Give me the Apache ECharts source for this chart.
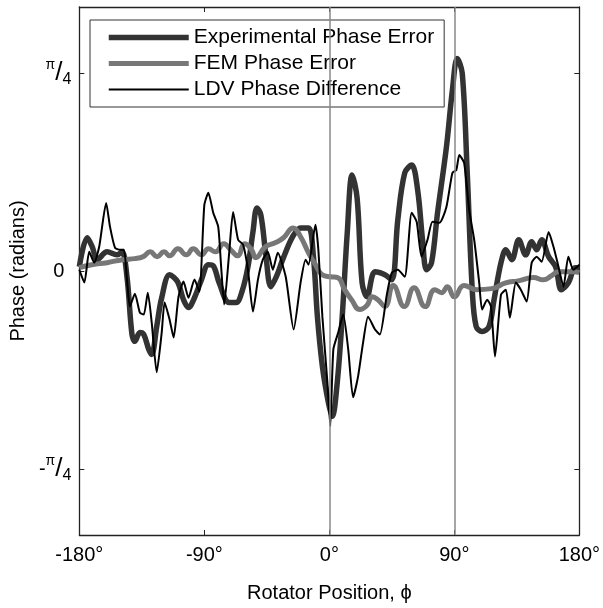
<!DOCTYPE html>
<html><head><meta charset="utf-8">
<script src="https://cdn.jsdelivr.net/npm/echarts@6/dist/echarts.min.js"></script>
<style>html,body{margin:0;padding:0;background:#fff}#c{width:603px;height:608px}</style>
</head><body><div id="c"></div>
<script>
// Axis ticks
const xTicks = [-180, -90, 0, 90, 180];
const yTicks = [-Math.PI / 4, 0, Math.PI / 4];
const refLines = [0, 90];
const seriesNames = ['Experimental Phase Error', 'FEM Phase Error', 'LDV Phase Difference'];

// Experimental Phase Error (deg, rad)
const expX = [-180,-174.3,-170.7,-167.1,-160,-152.9,-149.3,-145.7,-142.1,-140,-136.4,-133.6,-130,-127.9,-124.3,-120.7,-115,-109.3,-105,-101.4,-97.1,-92.1,-87.1,-83.6,-79.3,-72.1,-67.1,-62.9,-58.6,-55,-52.1,-49.3,-45.7,-42.1,-37.9,-33.6,-26.4,-20.7,-15,-11.4,-8.6,-5,-0.7,2.1,5.7,9.3,12.9,16.4,20,23.6,27.1,32.9,40,45,49.3,54.3,59.3,63.6,67.1,70,73.6,77.9,84.3,88.6,92.1,95.7,99.3,102.9,105.7,110,115,118.6,123.6,127.1,131.4,136.4,141.4,145.7,149.3,152.9,157.9,162.9,167.1,172.1,177.1,180];
const expY = [0.017,0.132,0.096,0.045,0.076,0.064,0.076,-0.023,-0.252,-0.279,-0.244,-0.252,-0.311,-0.331,-0.220,-0.106,-0.015,-0.042,-0.114,-0.145,-0.106,-0.035,0.025,0.021,-0.047,-0.125,-0.125,-0.082,0.017,0.155,0.250,0.222,0.064,-0.062,-0.019,0.045,0.136,0.171,0.171,0.053,-0.180,-0.378,-0.521,-0.576,-0.442,-0.180,0.151,0.381,0.290,-0.047,-0.102,-0.003,-0.015,-0.035,0.203,0.389,0.420,0.321,0.124,0.005,0.033,0.230,0.491,0.717,0.843,0.784,0.389,-0.074,-0.220,-0.240,-0.220,-0.114,0.033,0.084,0.045,0.124,0.064,0.116,0.084,0.124,0.057,0.017,-0.074,-0.047,0.013,0.013];

// FEM Phase Error (deg, rad)
const femX = [-180,-171,-160,-149,-140,-134,-129,-124,-119,-115,-109,-103,-98,-92,-87,-82,-76,-71,-66,-61,-56,-53,-46,-39,-33,-26,-21,-15,-10,-5,1,6,11,16,22,27,31,35,40,46,54,61,69,76,81,85,90,97,106,117,127,136,147,154,160,165,176,180];
const femY = [0.013,0.025,0.033,0.045,0.049,0.057,0.076,0.057,0.076,0.060,0.088,0.064,0.088,0.064,0.088,0.076,0.108,0.084,0.060,0.108,0.084,0.053,0.096,0.112,0.132,0.171,0.139,0.072,0.025,-0.015,-0.023,-0.026,-0.074,-0.114,-0.153,-0.137,-0.102,-0.114,-0.141,-0.058,-0.141,-0.066,-0.141,-0.074,-0.086,-0.062,-0.102,-0.058,-0.074,-0.070,-0.047,-0.039,-0.026,-0.035,-0.019,-0.003,-0.003,-0.007];

// LDV Phase Difference (deg, rad)
const ldvX = [-180,-176.4,-172.9,-169.3,-165.7,-160.7,-157.9,-154.3,-150.7,-147.9,-145.7,-143.6,-140,-136.4,-133.6,-130.7,-127.9,-124.3,-120.7,-118.6,-115,-112.1,-108.6,-105,-101.4,-97.1,-93.6,-90,-87.1,-83.6,-80,-77.9,-75.7,-72.1,-69.3,-65.7,-62.1,-58.6,-55,-51.4,-47.9,-44.3,-40.7,-37.1,-31.4,-25.7,-20.7,-17.1,-15,-10,-7.9,-5,-1.4,0.7,2.9,6.4,10,13.6,17.1,20.7,24.3,27.9,32.9,36.4,41.4,45,49.3,54.3,59.3,62.9,66.4,70.7,74.3,79.3,84.3,88.6,91.4,93.6,97.1,100.7,104.3,107.9,110,113.6,116.4,119.3,123.6,127.1,130,134.3,137.9,142.1,145.7,149.3,152.9,157.9,161.4,165,168.6,172.1,175.7,180];
const ldvY = [0.005,-0.046,0.076,0.033,0.096,0.270,0.175,0.092,0.084,0.084,-0.034,-0.141,-0.090,-0.165,-0.173,-0.086,-0.204,-0.402,-0.244,-0.125,-0.193,-0.264,-0.102,-0.042,-0.106,-0.034,-0.082,0.262,0.310,0.231,0.175,0.017,-0.133,0.072,0.234,0.124,0.104,0.005,-0.161,-0.034,0.045,0.076,0.005,0.072,-0.023,-0.232,-0.046,0.045,0.025,0.183,0.084,-0.181,-0.442,-0.615,-0.311,-0.244,-0.173,-0.311,-0.501,-0.418,-0.284,-0.181,-0.232,-0.252,-0.094,-0.007,0.005,-0.023,0.231,0.195,0.057,0.124,0.195,0.191,0.254,0.389,0.400,0.460,0.428,0.242,0.124,-0.046,-0.153,-0.114,-0.141,-0.339,-0.094,-0.074,-0.185,-0.046,-0.074,-0.121,0.033,0.057,0.037,0.155,0.096,0.017,-0.062,0.057,0.005,0.025];

const zip = (xs, ys) => xs.map((x, i) => [x, ys[i]]);
const FONT = "'Liberation Sans', Arial, sans-serif";
const near = (a, b) => Math.abs(a - b) < 1e-6;

function yLabel(v) {
  if (near(v, Math.PI / 4)) return '{sup|π}{sl|/}{sub|4}';
  if (near(v, -Math.PI / 4)) return '{m|-}{sup|π}{sl|/}{sub|4}';
  if (near(v, 0)) return '{z|0}';
  return '';
}

const hideSym = { opacity: 0, borderWidth: 0 };

const chart = echarts.init(document.getElementById('c'), null, { renderer: 'canvas' });
chart.setOption({
  animation: false,
  backgroundColor: '#fff',
  textStyle: { fontFamily: FONT },
  grid: { left: 77, right: 22, top: 7, bottom: 72, containLabel: false },
  legend: {
    orient: 'vertical', left: 90, top: 20,
    padding: [7, 10, 7, 16],
    itemWidth: 80, itemHeight: 14, itemGap: 5,
    borderColor: '#333', borderWidth: 1, backgroundColor: '#fff',
    textStyle: { fontFamily: FONT, fontSize: 21, color: '#000' },
    data: [
      { name: seriesNames[0], lineStyle: { width: 5.5, color: '#333' }, itemStyle: hideSym },
      { name: seriesNames[1], lineStyle: { width: 5, color: '#777' }, itemStyle: hideSym },
      { name: seriesNames[2], lineStyle: { width: 2, color: '#000' }, itemStyle: hideSym }
    ]
  },
  xAxis: [{
    type: 'value', min: -180, max: 180, interval: 90,
    name: 'Rotator Position, ϕ', nameLocation: 'middle', nameGap: 48,
    nameTextStyle: { fontFamily: FONT, fontSize: 20, color: '#000' },
    axisLine: { show: true, onZero: false, lineStyle: { color: '#222', width: 1.3 } },
    axisTick: { show: true, inside: true, length: 5, lineStyle: { color: '#222' } },
    axisLabel: { margin: 10, fontFamily: FONT, fontSize: 20, color: '#000', formatter: v => v + '°' },
    splitLine: { show: false }
  }, {
    type: 'value', position: 'top', min: -180, max: 180, interval: 90,
    axisLine: { show: true, onZero: false, lineStyle: { color: '#222', width: 1.3 } },
    axisTick: { show: true, inside: true, length: 5, lineStyle: { color: '#222' } },
    axisLabel: { show: false }, splitLine: { show: false }
  }],
  yAxis: [{
    type: 'value', min: -Math.PI / 3, max: Math.PI / 3,
    name: 'Phase (radians)', nameLocation: 'middle', nameGap: 43,
    nameTextStyle: { fontFamily: FONT, fontSize: 20, color: '#000' },
    axisLine: { show: true, onZero: false, lineStyle: { color: '#222', width: 1.3 } },
    axisTick: { show: true, inside: true, length: 5, customValues: yTicks, lineStyle: { color: '#222' } },
    axisLabel: {
      customValues: yTicks, margin: 8, color: '#000', fontFamily: FONT,
      formatter: yLabel,
      rich: {
        sup: { fontSize: 14, fontFamily: FONT, color: '#000', verticalAlign: 'top', lineHeight: 30 },
        sl: { fontSize: 26, fontFamily: FONT, color: '#000', lineHeight: 30 },
        sub: { fontSize: 16, fontFamily: FONT, color: '#000', verticalAlign: 'bottom', lineHeight: 30 },
        m: { fontSize: 20, fontFamily: FONT, color: '#000', lineHeight: 30 },
        z: { fontSize: 20, fontFamily: FONT, color: '#000', padding: [0, 7, 0, 0] }
      }
    },
    splitLine: { show: false }
  }, {
    type: 'value', position: 'right', min: -Math.PI / 3, max: Math.PI / 3,
    axisLine: { show: true, onZero: false, lineStyle: { color: '#222', width: 1.3 } },
    axisTick: { show: true, inside: true, length: 5, customValues: yTicks, lineStyle: { color: '#222' } },
    axisLabel: { show: false }, splitLine: { show: false }
  }],
  series: [
    {
      name: seriesNames[0], type: 'line', data: zip(expX, expY), symbol: 'none', smooth: 0.35,
      lineStyle: { color: '#333', width: 5.5 }, itemStyle: { color: '#333' }, z: 2,
      markLine: {
        silent: true, symbol: 'none', label: { show: false },
        lineStyle: { color: '#888', type: 'solid', width: 1.5 },
        data: refLines.map(v => ({ xAxis: v }))
      }
    },
    {
      name: seriesNames[1], type: 'line', data: zip(femX, femY), symbol: 'none', smooth: 0.5,
      lineStyle: { color: '#777', width: 5 }, itemStyle: { color: '#777' }, z: 3
    },
    {
      name: seriesNames[2], type: 'line', data: zip(ldvX, ldvY), symbol: 'none', smooth: 0.2,
      lineStyle: { color: '#000', width: 2 }, itemStyle: { color: '#000' }, z: 4
    }
  ]
});
</script>
</body></html>
